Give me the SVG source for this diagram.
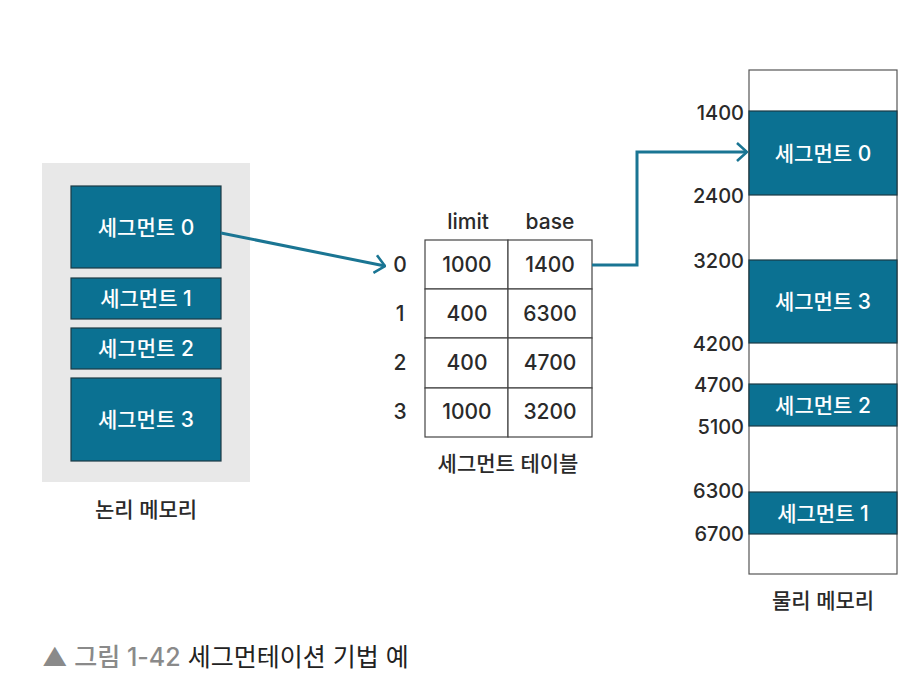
<svg xmlns="http://www.w3.org/2000/svg" width="924" height="694" viewBox="0 0 924 694">
<defs>
<style>
.seg{fill:#0b7192;stroke:#1c3a45;stroke-width:1.2}
.st{font-family:Inter,"Noto Sans CJK KR",sans-serif;font-size:21px;font-weight:500;fill:#ffffff;text-anchor:middle;dominant-baseline:central}
.t{font-family:Inter,"Noto Sans CJK KR",sans-serif;font-size:21px;font-weight:500;fill:#2a2a2a;text-anchor:middle}
.n{font-family:Inter,"Noto Sans CJK KR",sans-serif;font-size:20px;font-weight:500;fill:#2a2a2a;text-anchor:end}
.cell{fill:#ffffff;stroke:#444;stroke-width:1.2}
.conn{fill:none;stroke:#1a7593;stroke-width:3}
</style>
<marker id="ah" viewBox="0 0 12 20" refX="11" refY="10" markerWidth="12" markerHeight="20" markerUnits="userSpaceOnUse" orient="auto">
<path d="M1,1 L11,10 L1,19" fill="none" stroke="#1a7593" stroke-width="2.6"/>
</marker>
</defs>
<rect width="924" height="694" fill="#ffffff"/>

<g id="logical-memory">
<rect x="42" y="163" width="208" height="319" fill="#e8e8e8"/>
<text class="t" x="146" y="517">논리 메모리</text>
</g>
<g id="lseg0"><rect class="seg" x="71" y="186" width="150" height="82"/><text class="st" x="146" y="227">세그먼트 0</text></g>
<g id="lseg1"><rect class="seg" x="71" y="278" width="150" height="41"/><text class="st" x="146" y="298.5">세그먼트 1</text></g>
<g id="lseg2"><rect class="seg" x="71" y="328" width="150" height="41"/><text class="st" x="146" y="348.5">세그먼트 2</text></g>
<g id="lseg3"><rect class="seg" x="71" y="378" width="150" height="83"/><text class="st" x="146" y="419.5">세그먼트 3</text></g>

<g id="segment-table">
<text class="t" x="468" y="229">limit</text>
<text class="t" x="550" y="229">base</text>
<rect class="cell" x="425" y="240" width="83" height="49"/><rect class="cell" x="508" y="240" width="84" height="49"/>
<rect class="cell" x="425" y="289" width="83" height="49"/><rect class="cell" x="508" y="289" width="84" height="49"/>
<rect class="cell" x="425" y="338" width="83" height="50"/><rect class="cell" x="508" y="338" width="84" height="50"/>
<rect class="cell" x="425" y="388" width="83" height="49"/><rect class="cell" x="508" y="388" width="84" height="49"/>
<text class="t" x="400" y="272">0</text>
<text class="t" x="400" y="321">1</text>
<text class="t" x="400" y="370">2</text>
<text class="t" x="400" y="419">3</text>
<text class="t" x="467" y="272">1000</text><text class="t" x="550" y="272">1400</text>
<text class="t" x="467" y="321">400</text><text class="t" x="550" y="321">6300</text>
<text class="t" x="467" y="370">400</text><text class="t" x="550" y="370">4700</text>
<text class="t" x="467" y="419">1000</text><text class="t" x="550" y="419">3200</text>
<text class="t" x="508" y="471">세그먼트 테이블</text>
</g>

<g id="physical-memory">
<rect x="749" y="70" width="148" height="504" fill="#ffffff" stroke="#555" stroke-width="1.2"/>
<text class="t" x="823" y="608">물리 메모리</text>
<text class="n" x="744" y="120">1400</text>
<text class="n" x="744" y="203">2400</text>
<text class="n" x="744" y="268">3200</text>
<text class="n" x="744" y="351">4200</text>
<text class="n" x="744" y="392">4700</text>
<text class="n" x="744" y="434">5100</text>
<text class="n" x="744" y="498">6300</text>
<text class="n" x="744" y="541">6700</text>
</g>
<g id="pseg0"><rect class="seg" x="749" y="111" width="148" height="84"/><text class="st" x="823" y="153">세그먼트 0</text></g>
<g id="pseg3"><rect class="seg" x="749" y="260" width="148" height="83"/><text class="st" x="823" y="301.5">세그먼트 3</text></g>
<g id="pseg2"><rect class="seg" x="749" y="384" width="148" height="42"/><text class="st" x="823" y="405">세그먼트 2</text></g>
<g id="pseg1"><rect class="seg" x="749" y="492" width="148" height="42"/><text class="st" x="823" y="513">세그먼트 1</text></g>

<g id="connectors">
<path class="conn" d="M221,233 L385,266" marker-end="url(#ah)"/>
<path class="conn" d="M592,265 L637,265 L637,152 L747,152" marker-end="url(#ah)"/>
</g>

<g id="caption">
<text x="42" y="666" font-family="Inter,'Noto Sans CJK KR',sans-serif" font-size="25px"><tspan fill="#8a8a8a" font-weight="500">▲ 그림 1-42</tspan><tspan fill="#222222" font-weight="400"> 세그먼테이션 기법 예</tspan></text>
</g>
</svg>
